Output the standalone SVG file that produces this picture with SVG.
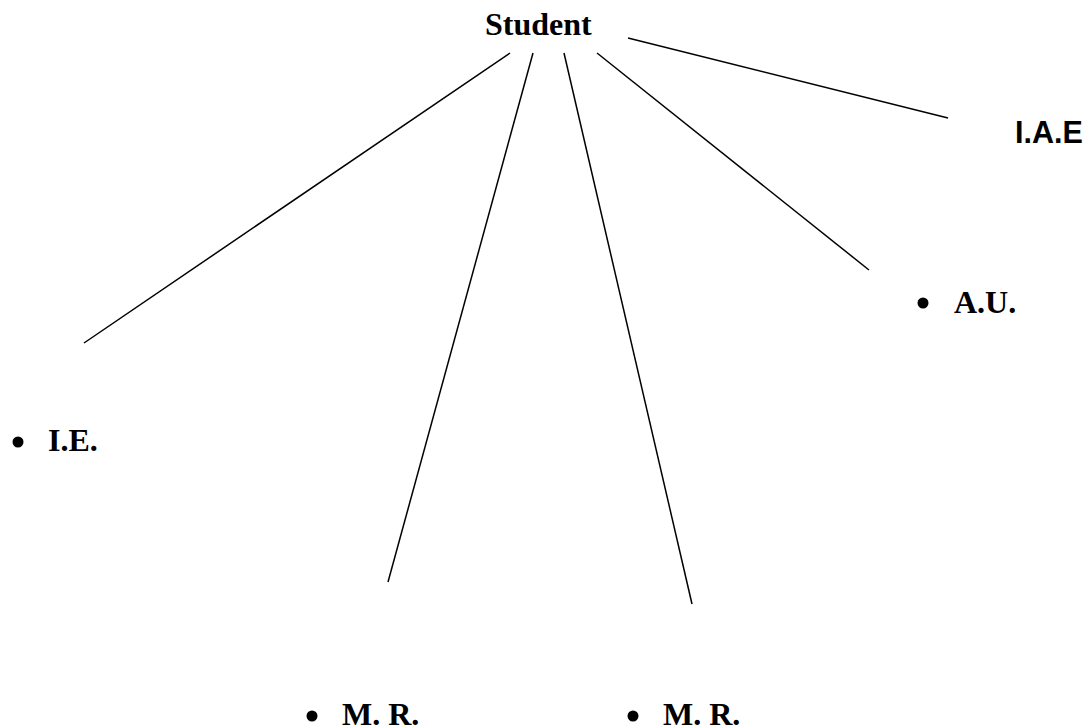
<svg xmlns="http://www.w3.org/2000/svg" width="1088" height="728" viewBox="0 0 1088 728">
<style>
.t{font-family:"Liberation Serif","Times New Roman",serif;font-weight:bold;font-size:32px;fill:#000}
.a{font-family:"Liberation Sans",Arial,sans-serif;font-weight:bold;font-size:30.5px;fill:#000}
.c line{stroke:#000;stroke-width:1.5}
</style>
<rect width="1088" height="728" fill="#fff"/>
<g class="c" id="connectors">
<line x1="510" y1="53" x2="84" y2="343"/>
<line x1="533" y1="53" x2="388" y2="582"/>
<line x1="564" y1="53" x2="692" y2="604"/>
<line x1="597" y1="53" x2="869" y2="270"/>
<line x1="628" y1="38" x2="948" y2="118"/>
</g>
<g id="student"><text class="t" x="485" y="35">Student</text></g>
<g id="iae"><text class="a" x="1015" y="143">I.A.E</text></g>
<g id="ie"><circle cx="18" cy="442" r="5.5"/><text class="t" x="48" y="451">I.E.</text></g>
<g id="au"><circle cx="923" cy="303" r="5.5"/><text class="t" x="954" y="313">A.U.</text></g>
<g id="mr1"><circle cx="312" cy="716" r="5.5"/><text class="t" x="342" y="725">M. R.</text></g>
<g id="mr2"><circle cx="633" cy="716" r="5.5"/><text class="t" x="663" y="725">M. R.</text></g>
</svg>
